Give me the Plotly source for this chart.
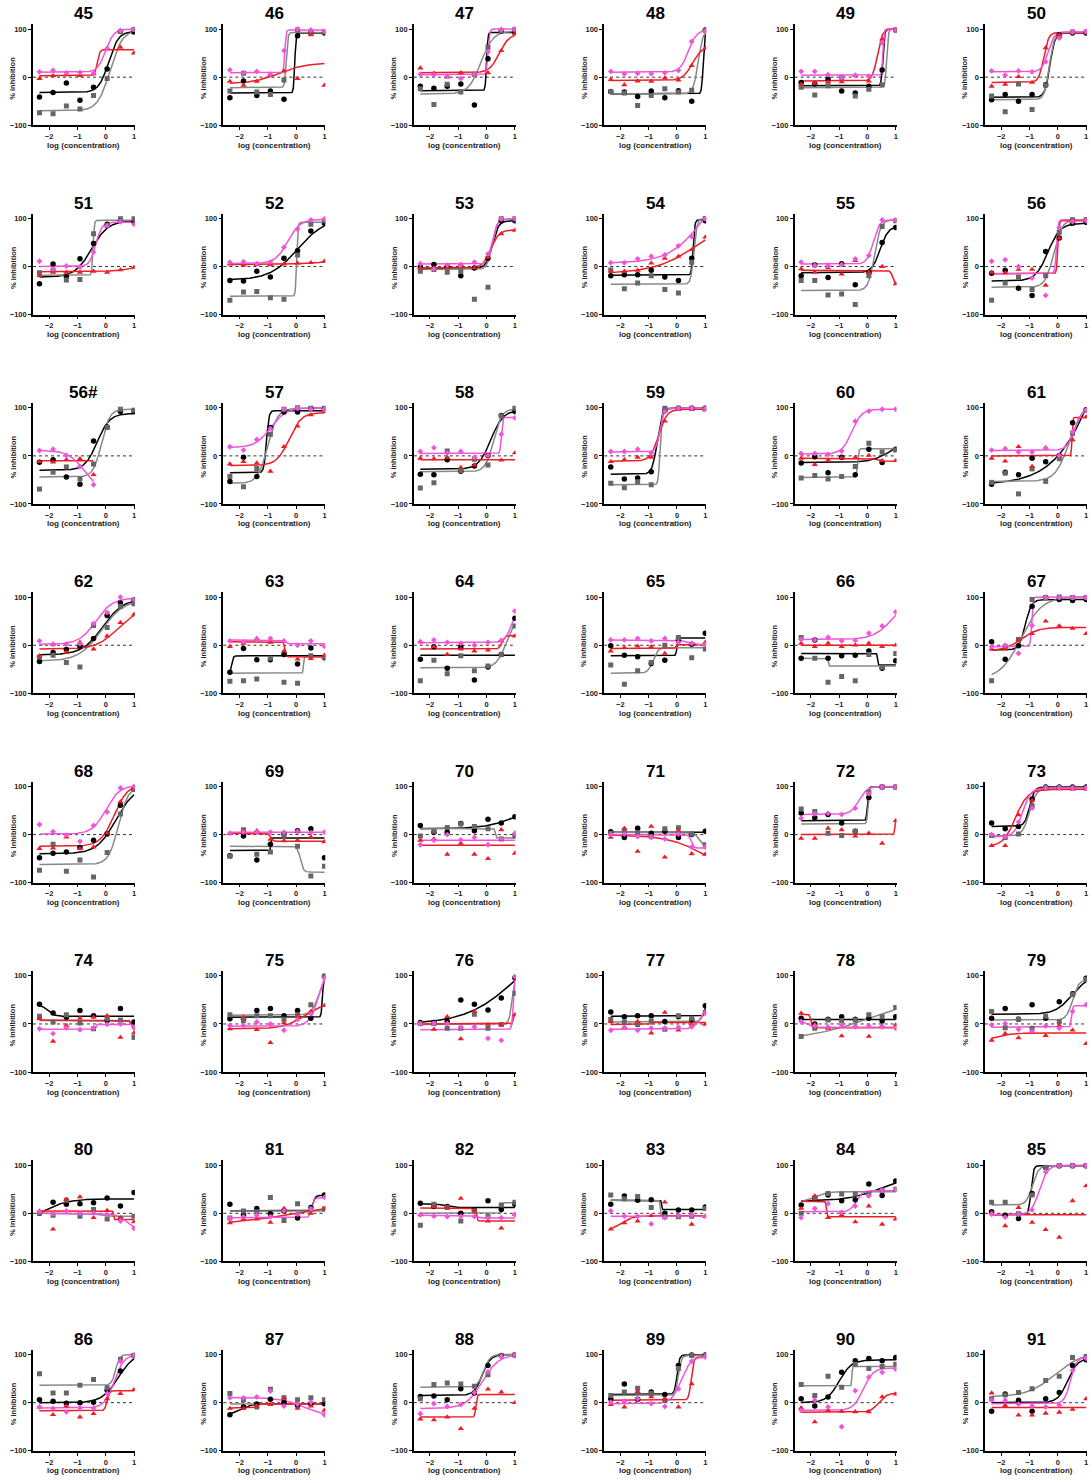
import numpy as np
import plotly.graph_objects as go

# ---------------- data ----------------
X_LOG_CONC = [-2.34, -1.86, -1.39, -0.91, -0.43, 0.05, 0.52, 1.0]

PANEL_ORDER = ["45", "46", "47", "48", "49", "50",
               "51", "52", "53", "54", "55", "56",
               "56#", "57", "58", "59", "60", "61",
               "62", "63", "64", "65", "66", "67",
               "68", "69", "70", "71", "72", "73",
               "74", "75", "76", "77", "78", "79",
               "80", "81", "82", "83", "84", "85",
               "86", "87", "88", "89", "90", "91"]

Y_TICKS = [-100, 0, 100]
X_TICKS = [-2, -1, 0, 1]

BLACK = {
    "45": [-41, -32, -12, -48, -21, 17, 95, 94],
    "46": [-43, -8, -38, -29, -46, 86, 92, 92],
    "47": [-19, -23, -19, -14, -58, 38, 96, 93],
    "48": [-30, -31, -40, -29, -43, -28, -50, 98],
    "49": [-11, -14, -4, -29, -33, -19, 15, 98],
    "50": [-47, -36, -50, -36, -16, 88, 92, 92],
    "51": [-36, 5, -21, 16, 48, 88, 95, 93],
    "52": [-29, -30, -10, -22, 17, 33, 74, 90],
    "53": [-1, 4, 0, -19, -3, 17, 95, 95],
    "54": [-19, -17, -17, -8, -22, -29, 17, 95],
    "55": [-19, 3, -23, 6, -38, -12, 50, 81],
    "56": [-14, -8, -45, -60, 31, 59, 90, 92],
    "56#": [-13, -8, -44, -59, 31, 60, 92, 92],
    "57": [-53, -3, -43, 59, 91, 91, 98, 98],
    "58": [-38, -39, -8, -32, -21, 1, 84, 92],
    "59": [-23, -48, -46, -33, 94, 99, 99, 99],
    "60": [-15, -2, -35, -3, -39, 14, -14, 14],
    "61": [-59, -34, -39, -5, -12, 1, 69, 96],
    "62": [-34, -15, -9, -2, 14, 62, 88, 94],
    "63": [-56, -7, -30, -30, -19, -39, -6, -26],
    "64": [-29, -3, -48, -3, -72, -45, -19, 56],
    "65": [-1, -21, -24, -38, -31, 12, 2, 25],
    "66": [-27, 11, -27, -22, -21, -12, -48, -32],
    "67": [7, -29, -1, 81, 99, 95, 93, 95],
    "68": [-48, -39, -36, -27, -12, 1, 61, 95],
    "69": [-44, -3, -53, -20, 2, 8, 12, -48],
    "70": [19, 5, 5, 23, 8, 32, 24, 37],
    "71": [6, -6, 13, 3, 7, -6, 0, 7],
    "72": [45, 35, 42, 24, 7, 77, 99, 99],
    "73": [24, 12, 17, 74, 99, 99, 99, 99],
    "74": [41, 23, 14, 28, 17, 7, 32, 4],
    "75": [11, 9, 28, 32, 17, 28, 12, 99],
    "76": [3, 3, 5, 50, 41, 29, 54, 96],
    "77": [25, 15, 17, 17, 5, 15, 9, 38],
    "78": [12, 0, 10, 15, 10, 12, 6, 15],
    "79": [12, 32, 10, 40, 12, 46, 63, 95],
    "80": [0, 23, 19, 20, 22, 32, 15, 43],
    "81": [19, -3, 10, -1, 5, -10, 12, 38],
    "82": [21, 14, 14, 0, 7, 26, 8, 19],
    "83": [19, 36, 27, 28, 0, 7, 7, 13],
    "84": [17, 31, 38, 26, 28, 61, 37, 67],
    "85": [3, -4, -11, 41, 95, 99, 99, 99],
    "86": [6, 3, -1, 0, 1, 26, 66, 98],
    "87": [-25, -9, -3, 7, 1, -6, -2, -2],
    "88": [13, 14, 6, 29, 20, 77, 98, 99],
    "89": [8, 39, 7, 22, 17, 77, 99, 99],
    "90": [8, -7, 12, 63, 87, 92, 87, 94],
    "91": [-18, 18, 5, -18, 8, 21, 77, 89],
}

GRAY = {
    "45": [-74, -76, -60, -66, -38, -3, 95, 99],
    "46": [-29, 8, -31, -36, -6, 98, 93, 94],
    "47": [-24, -57, -15, -31, 6, 62, 96, 99],
    "48": [-30, -33, -59, -38, -24, -31, -27, 97],
    "49": [-21, -37, -18, -2, -39, -25, -16, 98],
    "50": [-39, -72, -14, -67, -17, 85, 94, 94],
    "51": [-13, -8, -28, -27, 68, 85, 99, 99],
    "52": [-70, -53, -52, -65, -68, 24, 88, 95],
    "53": [-10, -6, -12, -10, -68, -43, 99, 99],
    "54": [-7, -46, -34, -19, -48, -55, 9, 100],
    "55": [-29, -29, -59, -57, -79, -19, 83, 95],
    "56": [-70, -34, -22, -48, -19, 71, 97, 97],
    "56#": [-69, -34, -23, -48, -17, 59, 97, 95],
    "57": [-43, -64, -26, 45, 97, 100, 99, 99],
    "58": [-67, -56, 10, -31, -7, -19, 83, 99],
    "59": [-57, -66, -54, -60, 99, 99, 99, 99],
    "60": [-46, -41, -48, -43, -22, 26, 8, 12],
    "61": [-55, -36, -79, -27, -53, -6, 47, 95],
    "62": [-25, -21, -36, -45, 41, 37, 81, 86],
    "63": [-75, -74, -70, -27, -77, -79, -22, -25],
    "64": [-74, -31, -59, -22, -53, -43, -19, 40],
    "65": [-41, -81, -53, -36, 0, 16, -26, -8],
    "66": [16, -27, -77, -65, -74, -19, -46, -17],
    "67": [-74, -3, 12, 95, 99, 100, 99, 99],
    "68": [-74, -20, -76, -53, -88, -37, 43, 94],
    "69": [-45, 10, -41, -36, -3, -24, -86, -66],
    "70": [-3, 7, 15, 22, 17, 12, -9, -3],
    "71": [3, 8, 4, -4, 12, 14, 1, -21],
    "72": [53, 48, 3, -2, 7, 88, 99, 99],
    "73": [-2, -6, 1, 60, 98, 98, 97, 97],
    "74": [16, 4, 19, 2, -10, 11, 8, -28],
    "75": [19, 7, 17, 17, 10, 19, 40, 99],
    "76": [1, 1, -9, -9, 20, -9, -1, 64],
    "77": [9, 4, -1, 6, -11, 17, 12, 24],
    "78": [-26, -9, 8, 7, 8, 19, 15, 34],
    "79": [26, -8, 10, -9, 16, 5, 61, 93],
    "80": [0, -4, 27, -6, 8, -12, -11, -6],
    "81": [-10, 5, 3, 33, -15, 20, 9, 9],
    "82": [-25, 19, 12, -16, 5, -6, 17, 23],
    "83": [38, 30, 35, 12, -7, -7, -6, 10],
    "84": [0, 32, 41, 40, 40, 40, 48, 50],
    "85": [23, 23, -1, 38, 95, 99, 99, 99],
    "86": [60, 20, 20, 36, 48, 31, 90, 98],
    "87": [19, 6, -9, 28, 10, 6, 10, 6],
    "88": [8, 38, 41, 39, 34, 58, 98, 99],
    "89": [15, 22, 30, 19, 5, 71, 98, 98],
    "90": [38, 15, 55, 32, 80, 71, 75, 80],
    "91": [8, 16, 21, 29, 46, 55, 94, 96],
}

RED = {
    "45": [-3, 3, 5, 3, 7, 60, 62, 50],
    "46": [-9, -17, -9, 5, 13, -3, 88, -17],
    "47": [19, 8, 0, 9, 5, 9, 55, 90],
    "48": [-5, -16, -8, -9, -2, -6, 24, 60],
    "49": [-15, -13, -10, -10, 3, -8, 79, 98],
    "50": [-19, -15, 1, -11, 61, 88, 93, 93],
    "51": [-19, -12, -12, -12, -10, -12, -7, -2],
    "52": [5, 3, 4, 4, 5, 7, 8, 11],
    "53": [-3, -3, -3, 4, -3, 19, 68, 75],
    "54": [-10, -10, -8, 7, 17, 21, 35, 61],
    "55": [-5, -12, -3, -16, 12, -12, 0, -36],
    "56": [-12, -13, -6, -6, -39, 59, 95, 97],
    "56#": [-12, -13, -8, -6, -39, None, None, None],
    "57": [-17, -12, -15, -32, 19, 62, 85, 92],
    "58": [-5, -6, -3, -24, -19, 1, -9, 6],
    "59": [-12, -8, -3, -3, 72, 97, 97, 95],
    "60": [-5, -18, -9, -4, -3, 1, -10, -10],
    "61": [-5, -11, 19, -22, 17, -1, 33, 81],
    "62": [-22, 2, -15, 6, -8, 19, 47, 64],
    "63": [-3, 4, 14, 6, -12, -29, -28, -21],
    "64": [7, -3, -19, -8, -12, -10, 9, 19],
    "65": [-12, -5, -2, -3, -17, 3, 3, 6],
    "66": [4, -3, 4, -3, 0, 4, -3, 0],
    "67": [-8, -8, 11, 24, 50, 40, 35, 24],
    "68": [-29, -28, -5, -29, -26, 3, 68, 97],
    "69": [2, 8, 8, -10, -13, -12, -5, -15],
    "70": [-12, -9, -41, -18, -41, -50, 10, -39],
    "71": [-6, 13, -35, 17, -47, 8, -40, -41],
    "72": [-8, -8, 13, 10, -3, 3, -18, 29],
    "73": [-23, -23, 41, 71, 95, 95, 95, 95],
    "74": [11, -36, -3, 12, 14, 17, -28, -19],
    "75": [-10, 14, -12, -39, 2, 16, 26, 38],
    "76": [1, -11, 15, -31, 26, -1, -1, 19],
    "77": [5, -7, 5, -19, 24, -13, -1, -1],
    "78": [22, -1, -9, -25, -4, -26, -4, -2],
    "79": [-34, -20, -29, -17, -24, -3, -13, -41],
    "80": [5, -33, 29, 34, -9, 6, -9, -18],
    "81": [-20, -12, -12, -19, 10, -1, 0, 10],
    "82": [-3, 13, 12, 31, 5, -16, -31, -2],
    "83": [-33, -20, -16, -5, 23, -5, -23, -7],
    "84": [10, 36, -9, -3, -18, 15, -23, -12],
    "85": [1, -26, 12, -19, -34, -50, 26, 57],
    "86": [-9, -25, -7, -30, -23, 8, 19, 27],
    "87": [-12, -12, -7, -4, 10, -12, -7, -16],
    "88": [-34, -36, -30, -54, -12, 28, 22, 0],
    "89": [-4, -9, 23, 12, 8, -9, 39, 95],
    "90": [-11, -40, -16, -18, -19, -19, 12, 18],
    "91": [20, -6, -26, -26, -22, -20, -14, 8],
}

PINK = {
    "45": [11, 14, 9, 10, 8, 59, 97, 100],
    "46": [15, 9, 12, 6, 55, 100, 98, 95],
    "47": [6, 5, 2, -3, 6, 53, 99, 100],
    "48": [12, 7, 8, 7, 9, 14, 74, 95],
    "49": [12, 12, 5, -1, 4, 2, 72, 98],
    "50": [13, 4, 13, 11, 32, 81, 94, 95],
    "51": [11, -5, 1, -1, 30, 85, 93, 88],
    "52": [9, 10, 6, 9, 40, 78, 97, 99],
    "53": [6, -5, 3, 4, 9, 26, 99, 99],
    "54": [8, 8, 16, 21, 24, 43, 62, 99],
    "55": [9, 2, 2, 4, 16, 23, 97, 97],
    "56": [11, 14, 0, -24, -60, 81, 93, 95],
    "56#": [11, 14, 1, -22, -60, None, None, None],
    "57": [19, 12, 34, 57, 97, 99, 97, 97],
    "58": [9, 17, 6, 9, -3, 1, 45, 79],
    "59": [9, 9, 14, 6, 92, 99, 99, 98],
    "60": [5, 5, 3, 10, 72, 93, 97, 97],
    "61": [12, 15, 8, 8, 16, 1, 50, 95],
    "62": [9, 2, 2, 3, 45, 68, 100, 95],
    "63": [9, 7, 12, 14, 9, 0, 9, -2],
    "64": [7, 11, 6, 4, 0, 6, 10, 71],
    "65": [11, 11, 14, 9, 14, 6, 4, 2],
    "66": [12, 11, 16, 9, 10, 25, 40, 69],
    "67": [-3, 0, -17, 41, 99, 99, 99, 99],
    "68": [21, 6, -1, -14, 19, 47, 97, 100],
    "69": [3, 5, 5, 5, 5, 7, 4, 5],
    "70": [-21, -12, 0, -11, -6, -21, -8, 3],
    "71": [0, 1, -4, -6, -9, 1, -26, -26],
    "72": [34, 43, 44, 42, 55, 85, 99, 99],
    "73": [0, -4, 26, 55, 97, 97, 97, 97],
    "74": [-10, -20, -8, -12, -8, -1, 0, -8],
    "75": [-3, -3, 4, 0, -13, 9, 21, 95],
    "76": [0, 1, 1, -7, -6, -30, -34, 98],
    "77": [-13, -7, -13, -9, -9, -7, -6, 22],
    "78": [5, -4, -6, -2, -6, -4, -6, -9],
    "79": [-2, 1, -11, -15, -4, -9, 26, 40],
    "80": [3, -1, 5, 0, 0, -3, -16, -31],
    "81": [-10, -7, -4, -7, 5, -2, 9, 33],
    "82": [-3, -6, -7, -6, -7, -9, -9, -3],
    "83": [5, -6, -6, -22, -9, -5, -4, -6],
    "84": [-9, 10, 20, 2, 15, 36, 48, 50],
    "85": [-2, -8, -2, 7, 86, 99, 99, 99],
    "86": [-9, -12, -19, -11, -11, 19, 86, 98],
    "87": [10, 10, 12, 24, -7, -3, 1, -25],
    "88": [-23, -2, -8, -4, 21, 64, 95, 99],
    "89": [1, 3, 8, -2, -8, 29, 86, 95],
    "90": [-16, 5, -9, -50, 25, 53, 63, 70],
    "91": [5, 5, -3, -7, -9, -5, 67, 92],
}

# fitted curve parameters: (value at low conc, value at high conc, logEC50, hill[, last x])
FIT_BLACK = {
    "45": (-32, 95, 0.1, 2.5), "46": (-33, 92, -0.05, 20), "47": (-28, 93, 0.0, 20),
    "48": (-35, 100, 0.93, 15), "49": (-18, 100, 0.55, 15), "50": (-42, 92, -0.28, 5),
    "51": (-22, 95, -0.5, 1.5), "52": (-28, 100, 0.05, 0.9), "53": (-4, 95, 0.2, 4),
    "54": (-18, 97, 0.57, 15), "55": (-13, 84, 0.45, 3), "56": (-30, 90, -0.35, 2),
    "56#": (-30, 88, -0.3, 2), "57": (-35, 94, -1.05, 10), "58": (-28, 95, 0.15, 2),
    "59": (-38, 99, -0.7, 5), "60": (-14, 40, 0.9, 1.2), "61": (-60, 400, 1.5, 0.55),
    "62": (-20, 97, -0.1, 1.2), "63": (-60, -22, -2.28, 15), "64": (-21, -21, 0.0, 1),
    "65": (-22, 15, 0.0, 20), "66": (-17, -41, 0.35, 50), "67": (-10, 95, -1.15, 4),
    "68": (-40, 100, 0.35, 1.3), "69": (-33, -7, -0.9, 50), "70": (12, 60, 1.0, 0.8),
    "71": (5, 5, 0.0, 1), "72": (29, 99, 0.0, 20), "73": (17, 99, -1.0, 5),
    "74": (40, 16, -2.05, 4), "75": (14, 100, 0.93, 20), "76": (0, 180, 1.0, 0.5),
    "77": (16, 40, 0.98, 20), "78": (9, 9, 0.0, 1), "79": (20, 100, 0.5, 1.5),
    "80": (-20, 30, -2.2, 1), "81": (5, 37, 0.6, 10), "82": (20, 12, -1.5, 3),
    "83": (27, 8, -0.55, 50), "84": (25, 80, 0.5, 0.7), "85": (-3, 99, -0.95, 10),
    "86": (0, 105, 0.45, 1.5), "87": (-28, -2, -2.0, 2), "88": (15, 100, -0.15, 3),
    "89": (17, 99, 0.0, 10), "90": (0, 89, -1.0, 2), "91": (0, 92, 0.35, 2.5),
}

FIT_GRAY = {
    "45": (-70, 98, 0.15, 2), "46": (-22, 93, -0.35, 15), "47": (-35, 96, -0.2, 2),
    "48": (-35, 100, 0.75, 5), "49": (-22, 100, 0.68, 15), "50": (-47, 93, -0.3, 5),
    "51": (-18, 96, -0.45, 20), "52": (-62, 92, 0.02, 20), "53": (-6, 99, 0.2, 5),
    "54": (-37, 100, 0.6, 8), "55": (-50, 97, 0.25, 4), "56": (-43, 97, -0.15, 3),
    "56#": (-44, 97, -0.15, 3), "57": (-57, 99, -1.0, 2.5), "58": (-33, 98, 0.25, 3),
    "59": (-60, 99, -0.6, 15), "60": (-45, 15, -0.35, 20), "61": (-53, 110, 0.4, 1.8),
    "62": (-33, 95, -0.15, 1.1), "63": (-58, -24, 0.25, 50), "64": (-47, 60, 0.7, 2.5),
    "65": (-58, -5, -0.85, 5), "66": (-27, -43, -1.38, 50), "67": (-70, 100, -1.3, 1.2),
    "68": (-62, 100, 0.45, 2.5), "69": (-24, -78, 0.15, 8), "70": (13, -7, 0.3, 30),
    "71": (5, -22, 0.75, 6), "72": (22, 99, 0.02, 20), "73": (-3, 97, -1.0, 3.5),
    "74": (7, -20, 0.95, 10), "75": (18, 120, 0.85, 3), "76": (-1, 100, 0.9, 8),
    "77": (4, 30, 0.9, 8), "78": (-40, 80, 0.5, 0.3), "79": (8, 92, 0.52, 4),
    "80": (0, -6, -0.3, 3), "81": (5, 5, 0.0, 1), "82": (0, 22, 0.55, 30),
    "83": (27, -6, -0.6, 50), "84": (22, 45, -1.9, 2), "85": (17, 99, -0.9, 4),
    "86": (36, 100, 0.35, 6), "87": (-3, -3, 0.0, 1), "88": (32, 100, -0.1, 4),
    "89": (15, 98, 0.05, 8), "90": (35, 75, -0.55, 50), "91": (12, 105, -0.1, 0.9),
}

FIT_RED = {
    "45": (3, 57, -0.3, 10), "46": (-14, 30, -0.6, 0.9), "47": (9, 90, 0.45, 2.5),
    "48": (-7, 65, 0.55, 2.5), "49": (-8, 100, 0.35, 5), "50": (-11, 93, -0.5, 5),
    "51": (-11, 10, 1.2, 1), "52": (4, 15, 1.0, 0.8), "53": (-3, 76, 0.15, 3),
    "54": (-15, 110, 0.8, 0.55), "55": (-8, -40, 0.9, 10), "56": (-15, 95, 0.0, 20),
    "56#": (-10, -10, 0.0, 1, -0.43), "57": (-20, 90, -0.25, 2), "58": (-8, -8, 0.0, 1),
    "59": (-11, 97, -0.65, 3), "60": (-5, -11, 0.3, 5), "61": (0, 80, 0.5, 30),
    "62": (-8, 75, 0.4, 1.2), "63": (7, -24, -0.4, 20), "64": (-8, 20, 0.55, 8),
    "65": (-7, 1, -0.05, 20), "66": (0, 0, 0.0, 1), "67": (-12, 37, -1.3, 1.5),
    "68": (-24, 105, 0.3, 1.8), "69": (3, -14, -0.9, 10), "70": (-22, -22, 0.0, 1),
    "71": (0, -100, 1.2, 0.6), "72": (0, 30, 0.97, 30), "73": (-25, 94, -1.5, 2),
    "74": (8, -15, 0.95, 10), "75": (-10, 45, 0.3, 1.2), "76": (0, 25, 0.95, 20),
    "77": (-1, 3, -0.85, 50), "78": (20, -8, -2.0, 20), "79": (-36, -19, -2.2, 1.5),
    "80": (5, -13, 0.27, 50), "81": (-25, 25, 0.0, 0.35), "82": (11, -16, -0.35, 30),
    "83": (-38, -5, -2.0, 2), "84": (25, -7, -1.45, 30), "85": (-3, -3, 0.0, 1),
    "86": (-17, 25, 0.05, 10), "87": (-11, -3, -1.4, 20), "88": (-30, 17, -0.38, 20),
    "89": (5, 95, 0.5, 10), "90": (-20, 20, 0.4, 3), "91": (-10, -10, 0.0, 1),
}

FIT_PINK = {
    "45": (10, 100, 0.0, 3), "46": (9, 98, -0.4, 20), "47": (5, 100, 0.05, 15),
    "48": (10, 98, 0.4, 3), "49": (4, 100, 0.55, 20), "50": (11, 94, -0.35, 4),
    "51": (0, 92, -0.35, 4), "52": (6, 98, -0.3, 2), "53": (5, 99, 0.2, 5),
    "54": (7, 200, 1.0, 0.7), "55": (5, 97, 0.2, 4), "56": (-15, 97, -0.05, 15),
    "56#": (12, -75, -0.75, 1.5, -0.43), "57": (17, 100, -0.9, 1.6), "58": (5, 80, 0.52, 20),
    "59": (8, 99, -0.6, 6), "60": (4, 97, -0.55, 2.5), "61": (11, 100, 0.6, 3),
    "62": (2, 98, -0.35, 1.5), "63": (11, 3, -0.4, 10), "64": (5, 100, 0.95, 3),
    "65": (11, 1, 0.4, 3), "66": (12, 100, 0.9, 1.3), "67": (-3, 100, -0.93, 20),
    "68": (1, 102, 0.0, 1.8), "69": (5, 5, 0.0, 1), "70": (-12, -12, 0.0, 1),
    "71": (0, -28, 0.5, 10), "72": (42, 100, -0.3, 3), "73": (-5, 97, -1.25, 3),
    "74": (-11, -1, -0.35, 50), "75": (-5, 130, 0.82, 2.5), "76": (-12, 110, 0.95, 15),
    "77": (-11, 50, 0.9, 3), "78": (5, -7, -2.1, 5), "79": (-7, 38, 0.48, 20),
    "80": (0, -40, 0.8, 2), "81": (-9, 32, 0.55, 10), "82": (-4, -10, -0.4, 5),
    "83": (-6, -6, 0.0, 1), "84": (3, 47, -0.4, 4), "85": (-3, 100, -0.65, 3),
    "86": (-11, 100, 0.3, 2.5), "87": (11, -30, 0.3, 1), "88": (-12, 100, -0.15, 1.5),
    "89": (-2, 96, 0.15, 2.5), "90": (-16, 72, -0.15, 2.5), "91": (-2, 95, 0.45, 4),
}

# ---------------- styling ----------------
W, H = 1092, 1483
COL_X0, COL_PITCH, PLOT_W = 33.0, 190.6, 102.0
ROW_TOP, ROW_PITCH, PLOT_H = 24.3, 190.0, 101.4
X_RANGE = [-2.57, 1.03]
Y_RANGE = [-100, 110]
FONT = "Liberation Sans, Arial, sans-serif"

SERIES = [
    (BLACK, FIT_BLACK, "#000000", "#000000", "circle", 5.5),
    (GRAY, FIT_GRAY, "#666666", "#888888", "square", 5),
    (RED, FIT_RED, "#ee1c25", "#ee1c25", "triangle-up", 5.5),
    (PINK, FIT_PINK, "#ef55da", "#ef55da", "diamond", 4.5),
]


def fit_curve(p):
    low, high, x50, hill = p[:4]
    xmax = p[4] if len(p) > 4 else X_LOG_CONC[-1]
    xs = np.linspace(X_LOG_CONC[0], xmax, 300)
    ys = low + (high - low) / (1.0 + 10.0 ** ((x50 - xs) * hill))
    return xs, ys


fig = go.Figure()
layout = dict(width=W, height=H, margin=dict(l=0, r=0, t=0, b=0),
              paper_bgcolor="white", plot_bgcolor="white", showlegend=False,
              font=dict(family=FONT, color="black"))
annotations = []
shapes = []

for i, name in enumerate(PANEL_ORDER):
    r, c = divmod(i, 6)
    n = "" if i == 0 else str(i + 1)
    x0 = COL_X0 + COL_PITCH * c
    x1 = x0 + PLOT_W
    ytop = ROW_TOP + ROW_PITCH * r
    ybot = ytop + PLOT_H
    axis_common = dict(showline=True, linecolor="black", linewidth=1.5,
                       ticks="outside", ticklen=3, tickwidth=1.3, tickcolor="black",
                       showgrid=False, zeroline=False,
                       tickfont=dict(size=7.5, family=FONT, color="#222", weight="bold"))
    layout["xaxis" + n] = dict(domain=[x0 / W, x1 / W], range=X_RANGE, anchor="y" + n,
                               tickvals=X_TICKS, **axis_common)
    layout["yaxis" + n] = dict(domain=[1 - ybot / H, 1 - ytop / H], range=Y_RANGE,
                               anchor="x" + n, tickvals=Y_TICKS, **axis_common)
    shapes.append(dict(type="line", xref="x" + n + " domain", yref="y" + n,
                       x0=0, x1=1, y0=0, y1=0,
                       line=dict(color="#333", width=1, dash="dot"), layer="below"))
    for pts, fits, mcol, lcol, sym, msz in SERIES:
        xs, ys = fit_curve(fits[name])
        fig.add_trace(go.Scatter(x=xs, y=ys, mode="lines", xaxis="x" + n, yaxis="y" + n,
                                 line=dict(color=lcol, width=1.5), hoverinfo="skip"))
    for pts, fits, mcol, lcol, sym, msz in SERIES:
        fig.add_trace(go.Scatter(x=X_LOG_CONC, y=pts[name], mode="markers",
                                 xaxis="x" + n, yaxis="y" + n,
                                 marker=dict(color=mcol, symbol=sym, size=msz, line=dict(width=0))))
    xc = (x0 + x1) / 2
    annotations.append(dict(text="<b>" + name + "</b>", x=xc / W, y=1 - (ytop - 10.5) / H,
                             xref="paper", yref="paper", showarrow=False,
                             font=dict(size=17, family=FONT), xanchor="center", yanchor="middle"))
    annotations.append(dict(text="<b>% inhibition</b>", x=(x0 - 20) / W, y=1 - (ytop + 3 + PLOT_H / 2) / H,
                             xref="paper", yref="paper", showarrow=False, textangle=-90,
                             font=dict(size=7.5, family=FONT, color="#222"),
                             xanchor="center", yanchor="middle"))
    annotations.append(dict(text="<b>log (concentration)</b>", x=xc / W, y=1 - (ybot + 20) / H,
                             xref="paper", yref="paper", showarrow=False,
                             font=dict(size=8, family=FONT, color="#222"),
                             xanchor="center", yanchor="middle"))

layout["annotations"] = annotations
layout["shapes"] = shapes
fig.update_layout(**layout)
fig.write_html("out.html", config={"displayModeBar": False},
               post_script="document.body.style.margin='0';document.body.style.padding='0';")
